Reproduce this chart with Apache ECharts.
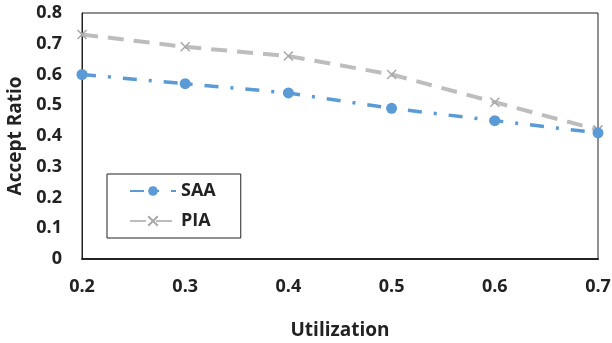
<!DOCTYPE html>
<html><head><meta charset="utf-8">
<script src="https://cdn.jsdelivr.net/npm/echarts@6/dist/echarts.min.js"></script>
<style>html,body{margin:0;padding:0;background:#fff}#c{width:612px;height:343px}</style>
</head><body><div id="c"></div>
<script>
const categories = ['0.2','0.3','0.4','0.5','0.6','0.7'];
const saa = [0.60, 0.57, 0.54, 0.49, 0.45, 0.41];
const pia = [0.73, 0.69, 0.66, 0.60, 0.51, 0.42];
const xTitle = 'Utilization';
const yTitle = 'Accept Ratio';

const font = '"Open Sans", "DejaVu Sans", sans-serif';
const xPath = 'path://M0,0 L10,10 M10,0 L0,10';
const chart = echarts.init(document.getElementById('c'), null, {renderer:'canvas'});
chart.setOption({
  animation: false,
  grid: {left: 82, right: 14, top: 13, bottom: 84, show: true, borderColor: '#222', borderWidth: 1,
    containLabel: false, outerBoundsMode: 'none'},
  legend: {
    orient: 'vertical', left: 107, top: 174,
    padding: [8, 25, 8, 22], itemGap: 12,
    borderColor: '#222', borderWidth: 1,
    itemWidth: 46, itemHeight: 12,
    textStyle: {fontFamily: font, fontWeight: 'bold', fontSize: 18, color: '#222'},
    data: ['SAA', 'PIA']
  },
  xAxis: {
    type: 'category', data: categories, boundaryGap: false,
    name: xTitle, nameLocation: 'middle', nameGap: 62,
    nameTextStyle: {fontFamily: font, fontWeight: 'bold', fontSize: 19, color: '#222'},
    axisLine: {lineStyle: {color: '#222', width: 2}},
    axisTick: {show: false},
    axisLabel: {fontFamily: font, fontWeight: 'bold', fontSize: 18, color: '#222', margin: 19}
  },
  yAxis: {
    type: 'value', min: 0, max: 0.8, interval: 0.1,
    name: yTitle, nameLocation: 'middle', nameGap: 50,
    nameTextStyle: {fontFamily: font, fontWeight: 'bold', fontSize: 19, color: '#222'},
    axisLine: {show: true, lineStyle: {color: '#222', width: 1}},
    axisTick: {show: false},
    splitLine: {show: false},
    axisLabel: {fontFamily: font, fontWeight: 'bold', fontSize: 18, color: '#222', margin: 20,
      formatter: v => (Math.round(v*10)/10).toString()}
  },
  series: [
    {name: 'PIA', type: 'line', data: pia, symbol: xPath, symbolSize: 9,
      itemStyle: {color: '#BDBDBD', borderColor: '#A8A8A8', borderWidth: 1.5},
      lineStyle: {color: '#BDBDBD', width: 4, type: [16, 10]}, z: 2},
    {name: 'SAA', type: 'line', data: saa, symbol: 'circle', symbolSize: 11,
      itemStyle: {color: '#5B9BD5'},
      lineStyle: {color: '#5B9BD5', width: 3.5, type: [14, 12, 3, 12]}, z: 3}
  ]
});
</script></body></html>
